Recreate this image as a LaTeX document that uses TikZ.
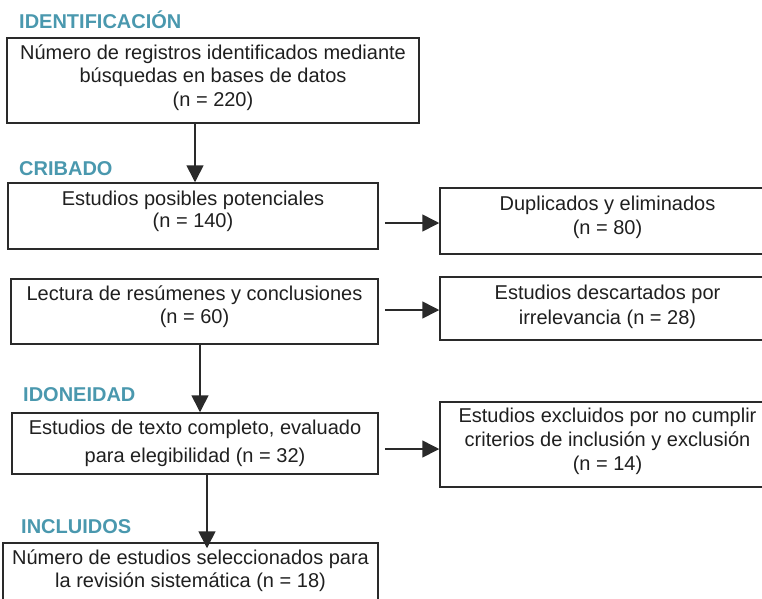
\documentclass[tikz,border=0pt]{standalone}
\usepackage{fontspec}
\setmainfont{Liberation Sans}
\usetikzlibrary{arrows.meta}
\definecolor{hdr}{HTML}{4A98AE}
\definecolor{ln}{HTML}{2A2A2A}
\begin{document}
\begin{tikzpicture}[x=1pt,y=-1pt,
  box/.style={draw=ln,line width=1.5pt,rectangle,inner sep=0pt},
  txt/.style={align=center,inner sep=0pt,yshift=-2pt,text=black!88,font=\fontsize{20}{23.5}\selectfont},
  hd/.style={anchor=west,inner sep=0pt,text=hdr,font=\fontsize{20}{22}\selectfont\bfseries},
  arr/.style={draw=ln,line width=1.6pt,-{Triangle[length=17pt,width=17pt]}}]
\useasboundingbox (0,0) rectangle (762,598);
\clip (0,0) rectangle (762,598);
% headers
\node[hd] (h1) at (19,20) {IDENTIFICACIÓN};
\node[hd] (h2) at (19,169) {CRIBADO};
\node[hd] (h3) at (23,395) {IDONEIDAD};
\node[hd] (h4) at (21,527) {INCLUIDOS};
% boxes
\node[box,minimum width=412pt,minimum height=85pt] (b1) at (213,80.5) {};
\node[txt] (t1) at (213,75.5) {Número de registros identificados mediante\\búsquedas en bases de datos\\(n = 220)};
\node[box,minimum width=370pt,minimum height=66pt] (b2) at (193,216) {};
\node[txt,font=\fontsize{20}{22}\selectfont] (t2) at (193,209) {Estudios posibles potenciales\\(n = 140)};
\node[box,minimum width=367pt,minimum height=65pt] (b3) at (194.5,311.5) {};
\node[txt,font=\fontsize{20}{23}\selectfont] (t3) at (194.5,304.5) {Lectura de resúmenes y conclusiones\\(n = 60)};
\node[box,minimum width=366pt,minimum height=61pt] (b5) at (195,443.5) {};
\node[txt,font=\fontsize{20}{28}\selectfont] (t5) at (195,441) {Estudios de texto completo, evaluado\\para elegibilidad (n = 32)};
\node[box,minimum width=375pt,minimum height=70pt] (b6) at (190.5,578) {};
\node[txt,font=\fontsize{20}{23}\selectfont] (t6) at (190.5,568.5) {Número de estudios seleccionados para\\la revisión sistemática (n = 18)};
\node[box,minimum width=335pt,minimum height=66pt] (r1) at (607.5,221) {};
\node[txt,font=\fontsize{20}{24}\selectfont] (u1) at (607.5,215) {Duplicados y eliminados\\(n = 80)};
\node[box,minimum width=335pt,minimum height=63pt] (r2) at (607.5,308.5) {};
\node[txt,font=\fontsize{20}{25}\selectfont] (u2) at (607.5,304.5) {Estudios descartados por\\irrelevancia (n = 28)};
\node[box,minimum width=335pt,minimum height=85pt] (r3) at (607.5,444.5) {};
\node[txt,font=\fontsize{20}{24}\selectfont] (u3) at (607.5,439) {Estudios excluidos por no cumplir\\criterios de inclusión y exclusión\\(n = 14)};
% vertical arrows
\draw[arr] (b1.south -| 195,0) -- (b2.north -| 195,0);
\draw[arr] (b3.south -| 200,0) -- (b5.north -| 200,0);
\draw[arr] (b5.south -| 207,0) -- ([yshift=-6pt]b6.north -| 207,0);
% horizontal arrows
\draw[arr] ([xshift=6pt]b2.east |- 0,223) -- (r1.west |- 0,223);
\draw[arr] ([xshift=6pt]b3.east |- 0,310) -- (r2.west |- 0,310);
\draw[arr] ([xshift=6pt]b5.east |- 0,449) -- (r3.west |- 0,449);
\end{tikzpicture}
\end{document}
